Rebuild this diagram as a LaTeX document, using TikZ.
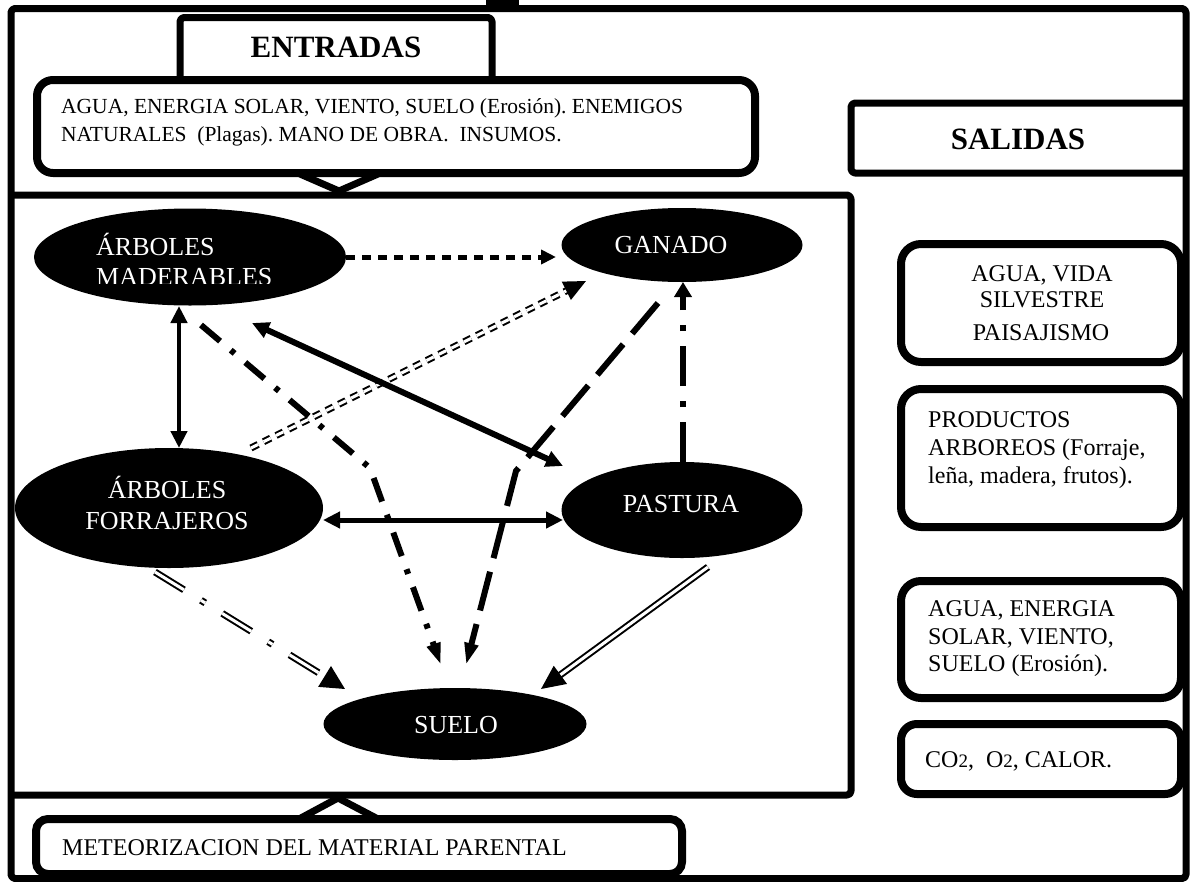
\documentclass[tikz,border=0pt]{standalone}
\usepackage{fontspec}
\setmainfont{Liberation Serif}
\usetikzlibrary{arrows.meta,shapes.geometric,calc}
\newcommand\smtwo{{\fontsize{19}{19}\selectfont 2}}
\frenchspacing
\begin{document}
\begin{tikzpicture}[x=1pt,y=-1pt,
  frame/.style={line width=7pt, line join=round, rounded corners=4pt},
  rbox/.style={line width=8pt, rounded corners=20pt},
  elli/.style={ellipse, fill=black, draw=none, inner sep=0pt},
  etext/.style={text=white, font=\fontsize{26}{30}\selectfont, inner sep=0pt},
  btext/.style={font=\fontsize{24}{28}\selectfont, inner sep=0pt, anchor=base west},
  ttext/.style={font=\bfseries\fontsize{31}{36}\selectfont, inner sep=0pt},
  solidarrow/.style={{Triangle[length=17pt,width=16pt]}-{Triangle[length=17pt,width=16pt]}},
  dbl/.style={double, line width=2pt, double distance=3pt}
]
\useasboundingbox (0,0) rectangle (1191,881);
\fill[white] (0,0) rectangle (1191,881);

% frames
\draw[frame] (11,8.5) rectangle (1186,878.5);
\fill (486,0) rectangle (519,8);
\draw[frame] (11,195) -- (851,195) -- (851,795) -- (11,795);
\draw[frame] (1186,103) -- (851,103) -- (851,173) -- (1186,173);
\draw[frame] (180,80) -- (180,17.5) -- (492,17.5) -- (492,80);
\draw[line width=8pt, rounded corners=16pt, fill=white] (37,80) rectangle (755,173);
\draw[line width=7pt, line join=round] (300,174) -- (339,191) -- (378,174);
\draw[line width=8pt, rounded corners=12pt] (36,819) rectangle (682,874);
\draw[line width=7pt, line join=round] (299,819) -- (338,798) -- (378,819);

% right boxes
\draw[rbox] (901,244) rectangle (1181,362);
\draw[rbox] (901,389) rectangle (1181,527);
\draw[rbox] (901,581) rectangle (1181,698);
\draw[rbox, rounded corners=16pt] (901,724) rectangle (1181,794);

% titles
\node[ttext] (entr) at (336,47) {ENTRADAS};
\node[ttext] (sal) at (1018,139) {SALIDAS};

% inputs text
\node[btext, font=\fontsize{21.5}{26}\selectfont] (in1) at (61,113) {AGUA, ENERGIA SOLAR, VIENTO, SUELO (Erosión). ENEMIGOS};
\node[btext, font=\fontsize{21.5}{26}\selectfont] (in2) at (61,141) {NATURALES\ \ (Plagas). MANO DE OBRA.\ \ INSUMOS.};

% output texts
\node[btext, anchor=base] (r1a) at (1042,281) {AGUA, VIDA};
\node[btext, anchor=base] (r1b) at (1042,307) {SILVESTRE};
\node[btext, anchor=base] (r1c) at (1041,340) {PAISAJISMO};
\node[btext] (r2a) at (928,427) {PRODUCTOS};
\node[btext] (r2b) at (928,455) {ARBOREOS (Forraje,};
\node[btext] (r2c) at (928,483) {leña, madera, frutos).};
\node[btext] (r3a) at (928,616) {AGUA, ENERGIA};
\node[btext] (r3b) at (928,644) {SOLAR, VIENTO,};
\node[btext] (r3c) at (928,671) {SUELO (Erosión).};
\node[btext] (r4a) at (925,767) {CO\smtwo,\ \ O\smtwo, CALOR.};
\node[btext] (met) at (62,855) {METEORIZACION DEL MATERIAL PARENTAL};

% ellipses
\node[elli, minimum width=312pt, minimum height=97pt] (mad) at (190,257) {};
\node[elli, minimum width=241pt, minimum height=74pt] (gan) at (682,245) {};
\node[elli, minimum width=308pt, minimum height=120pt] (forr) at (169,508) {};
\node[elli, minimum width=241pt, minimum height=96pt] (past) at (682,510) {};
\node[elli, minimum width=263pt, minimum height=72pt] (suelo) at (455,724) {};

\node[etext, anchor=base west] (madt1) at (96,255) {ÁRBOLES};
\begin{scope}
\clip (90,258) rectangle (300,283);
\node[etext, anchor=base west] (madt2) at (96,285) {MADERABLES};
\end{scope}
\node[etext, anchor=base] (gant) at (671,253) {GANADO};
\node[etext, anchor=base] (fort1) at (167,498) {ÁRBOLES};
\node[etext, anchor=base] (fort2) at (167,529) {FORRAJEROS};
\node[etext, anchor=base] (pastt) at (681,512) {PASTURA};
\node[etext, anchor=base] (suelot) at (456,733) {SUELO};

% bend points
\coordinate (fbend) at (370,468);
\coordinate (gbend) at (516,471);

% connectors
\draw[line width=5pt, dash pattern=on 9pt off 7pt, -{Triangle[length=15pt,width=14pt]}]
  ($(mad.center)+(156,0)$) -- ($(gan.center)+(-126,12)$);
\draw[dbl, dash pattern=on 8pt off 6pt, -{Triangle[length=22pt,width=20pt]}]
  ($(forr.center)+(82,-60)$) -- ($(gan.center)+(-96,36)$);
\draw[line width=4.5pt, solidarrow]
  ($(mad.center)+(-11,49)$) -- ($(forr.center)+(10,-60)$);
\draw[line width=6pt, solidarrow]
  ($(mad.center)+(62,66)$) -- ($(past.center)+(-119,-44)$);
\draw[line width=5pt, solidarrow]
  ($(forr.center)+(154,12)$) -- ($(past.center)+(-119,10)$);
\draw[line width=6pt, dash pattern=on 25pt off 14pt on 5pt off 14pt, -{Triangle[length=22pt,width=13pt]}]
  ($(mad.center)+(11,68)$) -- (fbend) -- ($(suelo.center)+(-14,-59)$);
\draw[line width=6pt, dash pattern=on 40pt off 14pt, -{Triangle[length=22pt,width=13pt]}]
  ($(gan.center)+(-24,58)$) -- (gbend) -- ($(suelo.center)+(11,-59)$);
\draw[line width=6pt, dash pattern=on 40pt off 15pt on 6pt off 15pt, -{Triangle[length=15pt,width=17pt]}]
  ($(past.center)+(1,-48)$) -- ($(gan.center)+(1,37)$);
\draw[dbl, dash pattern=on 34pt off 20pt on 5pt off 20pt, -{Triangle[length=24pt,width=24pt]}]
  ($(forr.center)+(-14,64)$) -- ($(suelo.center)+(-110,-35)$);
\draw[dbl, -{Triangle[length=24pt,width=22pt]}]
  ($(past.center)+(26,57)$) -- ($(suelo.center)+(86,-35)$);
\end{tikzpicture}
\end{document}
